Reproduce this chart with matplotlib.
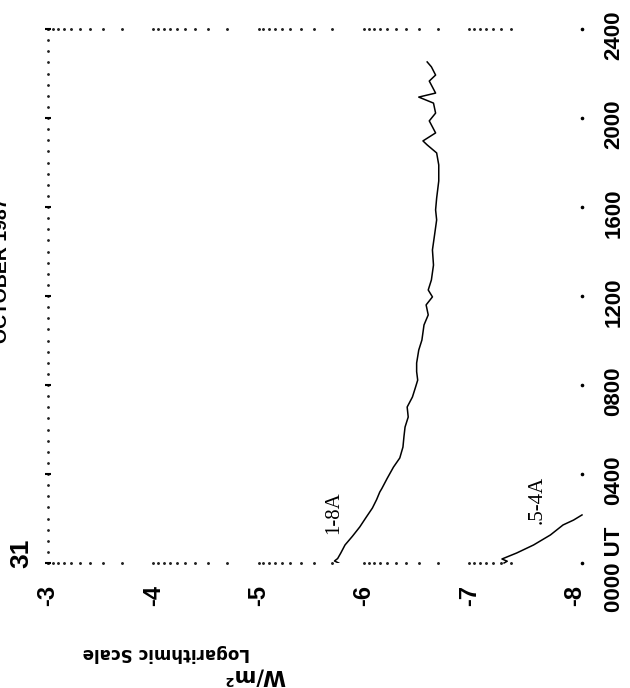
import numpy as np
import matplotlib
matplotlib.use("Agg")
import matplotlib.pyplot as plt
import matplotlib.transforms as mtransforms

# ---------------- data ----------------
flux_ticks = [-3, -4, -5, -6, -7, -8]
flux_labels = ["-3", "-4", "-5", "-6", "-7", "-8"]
time_ticks = [0, 4, 8, 12, 16, 20, 24]
time_labels = ["0000 UT", "0400", "0800", "1200", "1600", "2000", "2400"]

# GOES 1-8 A channel (hours UT, log10 W/m^2)
hours_18 = [0.00, 0.09, 0.20, 0.45, 0.81, 1.20, 1.62, 2.05, 2.47, 2.85, 3.19, 3.35, 3.80,
            4.31, 4.72, 5.21, 5.70, 6.11, 6.56, 7.01, 7.46, 7.91, 8.22, 8.60, 8.99, 9.57,
            10.02, 10.70, 11.15, 11.60, 11.96, 12.27, 12.72, 13.39, 14.07, 14.74, 15.42,
            15.87, 16.40, 17.17, 17.89, 18.43, 18.79, 18.97, 19.33, 19.87, 20.22, 20.67,
            20.94, 21.12, 21.66, 21.93, 22.30, 22.52]
logflux_18 = [-5.76, -5.72, -5.75, -5.78, -5.82, -5.89, -5.96, -6.02, -6.08, -6.12, -6.15,
              -6.17, -6.22, -6.28, -6.34, -6.37, -6.38, -6.39, -6.42, -6.41, -6.46, -6.49,
              -6.51, -6.50, -6.50, -6.52, -6.55, -6.57, -6.61, -6.59, -6.65, -6.61, -6.64,
              -6.66, -6.65, -6.67, -6.69, -6.68, -6.69, -6.71, -6.71, -6.69, -6.60, -6.56,
              -6.68, -6.62, -6.68, -6.66, -6.52, -6.68, -6.62, -6.68, -6.64, -6.60]

# GOES 0.5-4 A channel
hours_054 = [0.00, 0.08, 0.18, 0.45, 0.81, 1.26, 1.71, 1.93, 2.16]
logflux_054 = [-7.33, -7.36, -7.31, -7.45, -7.61, -7.77, -7.89, -7.99, -8.07]

# ---------------- figure ----------------
W, H = 630, 688
fig = plt.figure(figsize=(W / 100, H / 100), dpi=100)
fig.patch.set_facecolor("white")
ax = fig.add_axes([48 / W, (H - 563) / H, 534 / W, 534 / H])
ax.set_xlim(-3, -8.07)
ax.set_ylim(0, 24)
ax.axis("off")

sans = ["Liberation Sans", "DejaVu Sans"]

# dotted frame lines (log-spaced minor dots along 0000 and 2400)
dot_x = []
for dec in range(-4, -9, -1):
    for k in range(1, 10):
        v = np.log10(k) + dec
        if -7.5 <= v <= -3:
            dot_x.append(v)
dot_x = np.array(dot_x + [-3.0])
for tt in (0, 24):
    ax.plot(dot_x, np.full_like(dot_x, tt), ls="none", marker="o", ms=1.1,
            color="#222222", clip_on=False)

# left vertical dotted line at 1e-3 with half-hour dots and 4-hour dashes
half_hours = np.arange(0, 24.01, 0.5)
ax.plot(np.full_like(half_hours, -3.0), half_hours, ls="none", marker="o", ms=1.0,
        color="#222222", clip_on=False)
ax.plot(np.full(len(time_ticks), -3.0), time_ticks, ls="none", marker="_", ms=4,
        mew=1.5, color="black", clip_on=False)
# right-hand tick dots
ax.plot(np.full(len(time_ticks), -8.07), time_ticks, ls="none", marker="o", ms=1.6,
        color="black", clip_on=False)

# curves
ax.plot(logflux_18, hours_18, color="black", lw=1.1, clip_on=True)
ax.plot(logflux_054, hours_054, color="black", lw=1.1, clip_on=False)

ax.text(-5.71, 2.25, "1-8A", rotation=90, ha="center", va="center",
        fontsize=15, family=["Liberation Serif", "DejaVu Serif"])
ax.text(-7.64, 2.85, ".5-4A", rotation=90, ha="center", va="center",
        fontsize=15, family=["Liberation Serif", "DejaVu Serif"])

# flux tick labels along the bottom
tr_x = mtransforms.blended_transform_factory(ax.transData, fig.transFigure)
for v, lab in zip(flux_ticks, flux_labels):
    ax.text(v, 1 - 595 / H, lab, transform=tr_x, rotation=90, ha="center",
            va="center", fontsize=17, fontweight="bold", family=sans)

# time tick labels on the right
tr_y = mtransforms.blended_transform_factory(fig.transFigure, ax.transData)
for t, lab in zip(time_ticks, time_labels):
    ax.text(614 / W, t - 0.3, lab, transform=tr_y, rotation=90, ha="center",
            va="center", fontsize=16, fontweight="bold", family=sans)

# axis titles (upside down in the scan)
fig.text(166 / W, 1 - 653 / H, "Logarithmic Scale", rotation=180, ha="center",
         va="center", fontsize=12, fontweight="bold", family="DejaVu Sans")
fig.text(255 / W, 1 - 676 / H, "W/m²", rotation=180, ha="center", va="center",
         fontsize=15, fontweight="bold", family="DejaVu Sans")

# day number and month heading
fig.text(21 / W, 1 - 553 / H, "31", rotation=90, ha="center", va="center",
         fontsize=19, fontweight="bold", family=sans)
fig.text(11 / W, 1 - 270 / H, "OCTOBER 1987", rotation=90, ha="right", va="center",
         fontsize=14, fontweight="bold", family=sans)

fig.savefig("out.png", dpi=100, facecolor="white")
